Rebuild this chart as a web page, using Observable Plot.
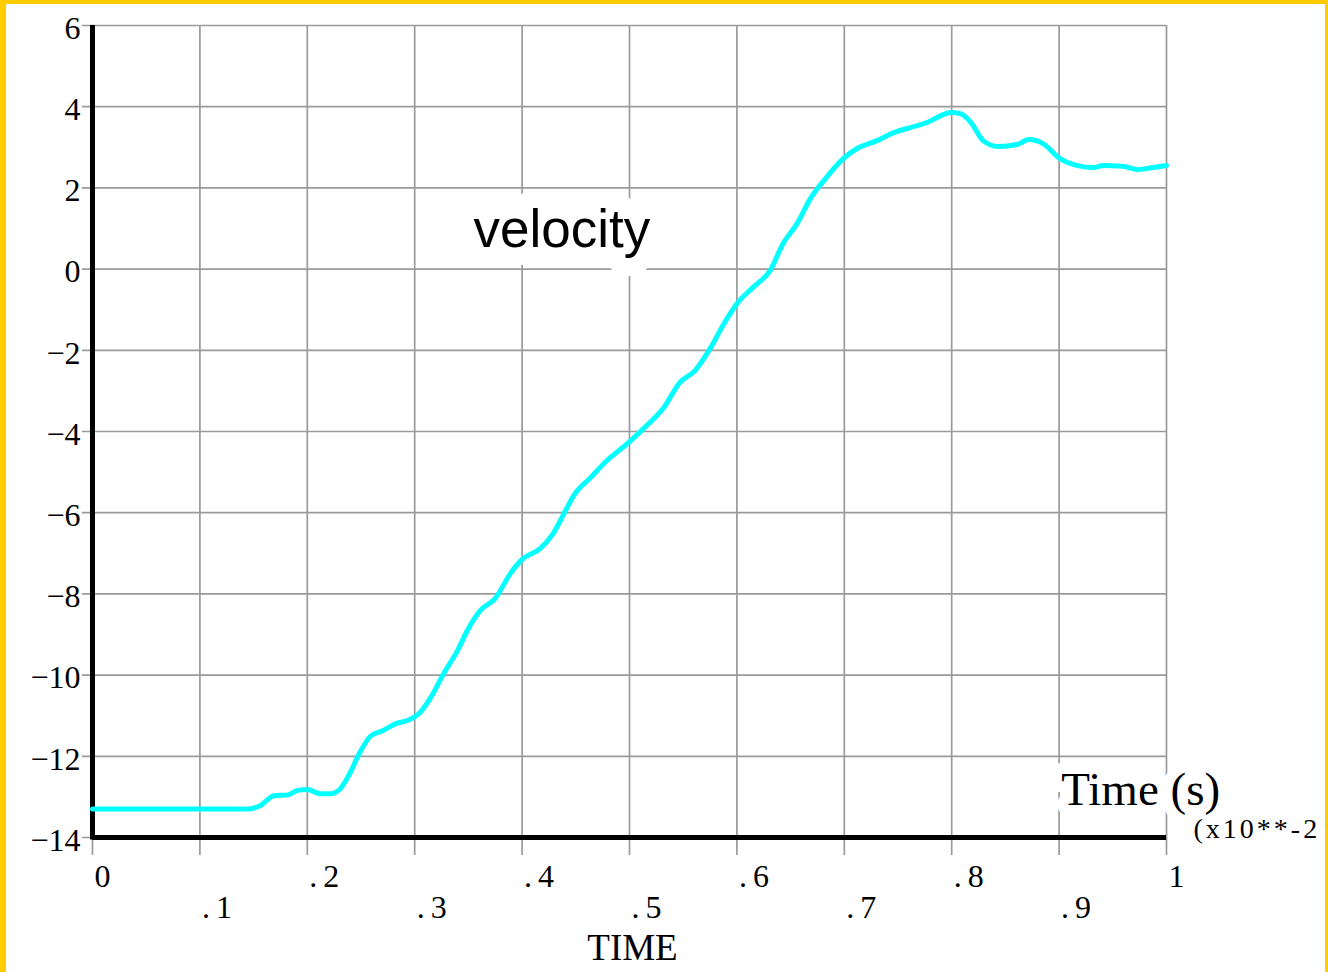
<!DOCTYPE html>
<html><head><meta charset="utf-8">
<script src="https://cdn.jsdelivr.net/npm/d3@7"></script>
<script src="https://cdn.jsdelivr.net/npm/@observablehq/plot@0.6"></script>
<style>
html,body{margin:0;padding:0;background:#fff;}
#wrap{position:relative;width:1328px;height:972px;overflow:hidden;background:#fff;}
#wrap svg{position:absolute;left:0;top:0;}
.bd{position:absolute;background:#FFCC00;z-index:5;}
</style></head><body>
<div id="wrap">
<div class="bd" style="left:0;top:0;width:6px;height:972px"></div>
<div class="bd" style="left:0;top:0;width:1328px;height:4px"></div>
<div class="bd" style="right:0;top:0;width:3px;height:972px"></div>
</div>
<script>
// TIME in units of x10**-2 s
const time = [0, 0.05, 0.10, 0.145, 0.156, 0.169, 0.182, 0.191, 0.200, 0.212, 0.222, 0.231, 0.240, 0.248,
  0.259, 0.271, 0.282, 0.293, 0.305, 0.315, 0.327, 0.340, 0.349, 0.361, 0.375, 0.389, 0.400, 0.417, 0.429,
  0.442, 0.448, 0.464, 0.480, 0.498, 0.513, 0.532, 0.547, 0.561, 0.575, 0.588, 0.601, 0.615, 0.631, 0.643,
  0.656, 0.669, 0.681, 0.699, 0.712, 0.731, 0.746, 0.762, 0.777, 0.790, 0.799, 0.808, 0.818, 0.829, 0.843,
  0.861, 0.872, 0.885, 0.901, 0.917, 0.932, 0.941, 0.960, 0.973, 0.982, 1.0];
const velocity = [-13.3, -13.3, -13.3, -13.3, -13.22, -12.97, -12.95, -12.84, -12.82, -12.92, -12.92, -12.79, -12.4, -11.95,
  -11.5, -11.36, -11.2, -11.12, -10.92, -10.55, -9.96, -9.39, -8.9, -8.41, -8.11, -7.5, -7.15, -6.88, -6.51,
  -5.87, -5.58, -5.13, -4.69, -4.3, -3.93, -3.41, -2.79, -2.5, -1.96, -1.34, -0.82, -0.45, -0.03, 0.63,
  1.12, 1.76, 2.18, 2.72, 2.97, 3.17, 3.36, 3.49, 3.61, 3.78, 3.86, 3.83, 3.61, 3.17, 3.02,
  3.07, 3.19, 3.09, 2.72, 2.55, 2.5, 2.55, 2.53, 2.45, 2.48, 2.55];

const xTicks = [0, 0.1, 0.2, 0.3, 0.4, 0.5, 0.6, 0.7, 0.8, 0.9, 1];
const xTickLabels = ["0", ".1", ".2", ".3", ".4", ".5", ".6", ".7", ".8", ".9", "1"];
const yTicks = [-14, -12, -10, -8, -6, -4, -2, 0, 2, 4, 6];
const yTickLabels = ["\u221214", "\u221212", "\u221210", "\u22128", "\u22126", "\u22124", "\u22122", "0", "2", "4", "6"];

const xTitle = "TIME";
const scaleNote = "(x10**-2";
const seriesLabel = "velocity";
const unitLabel = "Time (s)";

const data = time.map((t, i) => ({t, v: velocity[i]}));
const xt = xTicks.map((x, i) => ({x, label: xTickLabels[i], row: i % 2}));
const yt = yTicks.map((y, i) => ({y, label: yTickLabels[i]}));

const tickFont = "Liberation Serif";
const chart = Plot.plot({
  width: 1328, height: 972,
  marginLeft: 92, marginRight: 162, marginTop: 25, marginBottom: 135,
  style: {background: "transparent", overflow: "visible"},
  x: {domain: [0, 1], axis: null},
  y: {domain: [-14, 6], axis: null},
  marks: [
    Plot.ruleX(xTicks, {stroke: "#9a9a9a", strokeWidth: 1.7, insetBottom: -18}),
    Plot.ruleY(yTicks, {stroke: "#9a9a9a", strokeWidth: 1.7, insetLeft: -10}),
    Plot.text([seriesLabel], {x: () => 0.437, y: () => 0.95, text: d => d, fontSize: 53,
      fontFamily: "Liberation Sans", fill: "black", stroke: "white", strokeWidth: 36, strokeLinejoin: "round"}),
    Plot.text([unitLabel], {x: () => 0.902, y: () => -12.84, text: d => d, fontSize: 47, textAnchor: "start",
      fontFamily: "Liberation Serif", fill: "black", stroke: "white", strokeWidth: 22, strokeLinejoin: "round"}),
    Plot.ruleX([0], {stroke: "black", strokeWidth: 5, insetBottom: -2.5}),
    Plot.ruleY([-14], {stroke: "black", strokeWidth: 5}),
    Plot.line(data, {x: "t", y: "v", stroke: "#00FFFF", strokeWidth: 5, curve: "monotone-x"}),
    Plot.text(yt, {x: () => 0, y: "y", text: "label", textAnchor: "end", dx: -12, dy: 3,
      fontSize: 32, fontFamily: tickFont, fill: "black"}),
    Plot.text(xt.filter(d => d.row === 0), {x: "x", y: () => -14, text: "label", textAnchor: "start",
      dx: 2, dy: 39, fontSize: 32, fontFamily: tickFont, fill: "black"}),
    Plot.text(xt.filter(d => d.row === 1), {x: "x", y: () => -14, text: "label", textAnchor: "start",
      dx: 2, dy: 70, fontSize: 32, fontFamily: tickFont, fill: "black"}),
    Plot.text([xTitle], {x: () => 0.5, y: () => -14, text: d => d, dx: 3, dy: 111,
      fontSize: 37, fontFamily: tickFont, fill: "black"}),
    Plot.text([scaleNote], {x: () => 1, y: () => -14, text: d => d, textAnchor: "start", dx: 27, dy: -8,
      fontSize: 28, fontFamily: tickFont, fill: "black"})
  ]
});
// monospace-like spacing for the ANSYS-style labels
d3.select(chart).selectAll("text").each(function() {
  const g = this.closest("g");
  const anchor = g ? g.getAttribute("text-anchor") : null;
  const t = this.textContent;
  if (anchor === "start" && xTickLabels.includes(t)) this.setAttribute("letter-spacing", "6");
  if (t === scaleNote) this.setAttribute("letter-spacing", "3");
});
document.getElementById("wrap").appendChild(chart);
</script>
</body></html>
